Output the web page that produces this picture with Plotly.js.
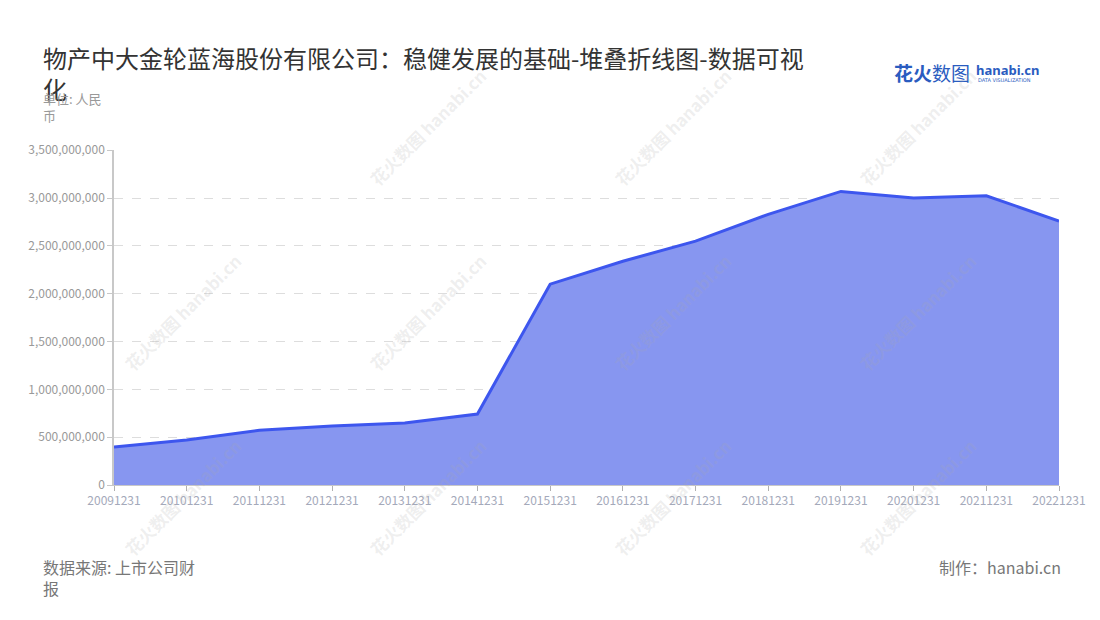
<!DOCTYPE html>
<html>
<head>
<meta charset="utf-8">
<script src="https://cdn.plot.ly/plotly-3.0.1.min.js"></script>
<style>
  html, body { margin: 0; padding: 0; background: #fff; }
  #chart { width: 1100px; height: 620px; }
</style>
</head>
<body>
<div id="chart"></div>
<script>
const categories = ['20091231','20101231','20111231','20121231','20131231','20141231','20151231','20161231','20171231','20181231','20191231','20201231','20211231','20221231'];
const values = [397000000, 470000000, 572000000, 616000000, 648000000, 742000000, 2100000000, 2340000000, 2550000000, 2830000000, 3070000000, 3000000000, 3025000000, 2760000000];
const titleText = '物产中大金轮蓝海股份有限公司：稳健发展的基础-堆叠折线图-数据可视<br>化';
const unitText = '单位: 人民<br>币';
const sourceText = '数据来源: 上市公司财<br>报';
const creditText = '制作：hanabi.cn';

const W = 1100, H = 620;
const M = {l: 114, r: 41, t: 150, b: 135};
const PW = W - M.l - M.r, PH = H - M.t - M.b;
const px = x => (x - M.l) / PW;
const py = y => (H - M.b - y) / PH;
const FONT = '"Noto Sans CJK SC", "Noto Sans", sans-serif';

const annotations = [
  {text: titleText, x: px(41), y: py(38), xanchor: 'left', yanchor: 'top', align: 'left',
   font: {size: 24, color: '#333', family: FONT}},
  {text: unitText, x: px(41), y: py(87), xanchor: 'left', yanchor: 'top', align: 'left',
   font: {size: 13, color: '#999', family: FONT}},
  {text: sourceText, x: px(41), y: py(553), xanchor: 'left', yanchor: 'top', align: 'left',
   font: {size: 16, color: '#777', family: FONT}},
  {text: creditText, x: px(1063), y: py(553), xanchor: 'right', yanchor: 'top', align: 'right',
   font: {size: 16, color: '#777', family: FONT}},
  // logo
  {text: '<b>花火</b>数图', x: px(892), y: py(73), xanchor: 'left', yanchor: 'middle',
   font: {size: 19, color: '#2a5cc0', family: FONT}},
  {text: '<b>hanabi.cn</b>', x: px(974), y: py(70), xanchor: 'left', yanchor: 'middle',
   font: {size: 13, color: '#2a5cc0', family: '"Noto Sans", sans-serif'}},
  {text: 'DATA VISUALIZATION', x: px(976), y: py(80), xanchor: 'left', yanchor: 'middle',
   font: {size: 5, color: '#2a5cc0', family: '"DejaVu Sans", sans-serif'}}
];

const wmRows = [127, 312, 497];
const wmCols = [182, 427, 672, 917];
wmRows.forEach((ry, ri) => {
  wmCols.forEach((cx, ci) => {
    if (ri === 0 && ci === 0) return;
    annotations.push({
      text: '<b>花火数图 hanabi.cn</b>', x: px(cx), y: py(ry), xanchor: 'center', yanchor: 'middle',
      textangle: -45,
      font: {size: 17, color: 'rgba(170,170,170,0.2)', family: FONT}
    });
  });
});
annotations.forEach(a => { a.xref = 'paper'; a.yref = 'paper'; a.showarrow = false; });

const trace = {
  type: 'scatter', mode: 'lines',
  x: categories, y: values,
  fill: 'tozeroy', fillcolor: '#8796f0',
  line: {color: '#3d56ee', width: 3, shape: 'linear'},
  hoverinfo: 'x+y'
};

const layout = {
  width: W, height: H,
  margin: M,
  paper_bgcolor: '#fff', plot_bgcolor: '#fff',
  showlegend: false,
  font: {family: FONT},
  xaxis: {
    type: 'category', range: [0, 13], showgrid: false, zeroline: false,
    showline: true, linecolor: '#c8c8c8', linewidth: 1,
    ticks: 'outside', ticklen: 5, tickcolor: '#b0b0b0',
    tickfont: {size: 12, color: '#a4a9ba', family: FONT},
    tickangle: 0
  },
  yaxis: {
    range: [0, 3503000000], dtick: 500000000, tickformat: ',d',
    showgrid: true, gridcolor: '#dddddd', griddash: 'dash', gridwidth: 1,
    zeroline: false, showline: true, linecolor: '#c8c8c8', linewidth: 1.5,
    ticks: 'outside', ticklen: 5, tickcolor: '#c8c8c8',
    tickfont: {size: 12, color: '#999', family: FONT}
  },
  annotations: annotations
};

Plotly.newPlot('chart', [trace], layout, {displayModeBar: false, responsive: false});
</script>
</body>
</html>
